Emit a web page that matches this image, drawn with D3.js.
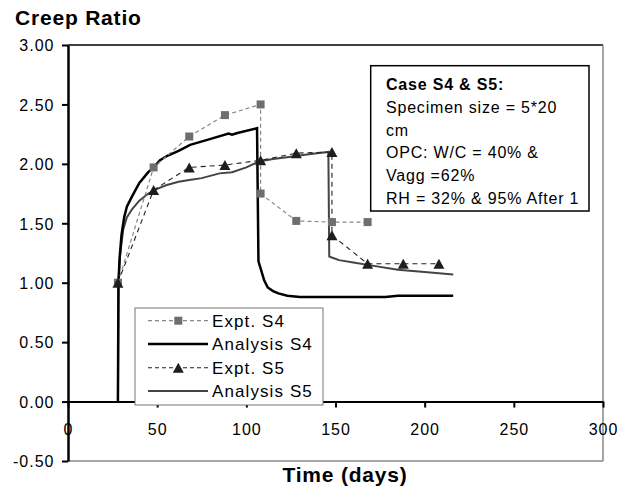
<!DOCTYPE html>
<html>
<head>
<meta charset="utf-8">
<script src="https://cdn.jsdelivr.net/npm/d3@7"></script>
<style>
  html, body { margin: 0; padding: 0; background: #fff; }
  svg { display: block; }
  text { font-family: "Liberation Sans", Arial, sans-serif; fill: #000; }
</style>
</head>
<body>
<svg id="chart" width="632" height="498"></svg>
<script>
// ---------- data ----------
const xTicks = [0, 50, 100, 150, 200, 250, 300];
const yTicks = [-0.5, 0, 0.5, 1.0, 1.5, 2.0, 2.5, 3.0];
const yTickLabels = ["-0.50", "0.00", "0.50", "1.00", "1.50", "2.00", "2.50", "3.00"];

const exptS4Days = [28, 48, 68, 88, 108, 108, 128, 148, 168];
const exptS4Vals = [1.00, 1.97, 2.23, 2.41, 2.50, 1.75, 1.52, 1.51, 1.51];

const exptS5Days = [28, 48, 68, 88, 108, 128, 148, 148, 168, 188, 208];
const exptS5Vals = [1.00, 1.78, 1.97, 1.99, 2.03, 2.09, 2.10, 1.40, 1.16, 1.16, 1.16];

const analS4Days = [28, 28.3, 29, 30, 31.5, 33, 35.7, 40, 45, 48, 51.6, 56, 62, 68.5, 80, 90, 92, 95, 106,
                    106.8, 108, 110, 112, 115, 118, 123, 130, 178, 185, 216];
const analS4Vals = [0.00, 1.00, 1.22, 1.40, 1.55, 1.64, 1.72, 1.84, 1.93, 1.97, 2.03, 2.07, 2.11, 2.16, 2.21, 2.255, 2.245, 2.26, 2.30,
                    1.18, 1.12, 1.02, 0.96, 0.93, 0.91, 0.89, 0.88, 0.88, 0.89, 0.89];

const analS5Days = [28, 28.3, 29, 30, 31, 33, 36, 40, 45, 50, 55, 62, 68, 75, 85, 92, 100, 107, 115, 125, 135, 146,
                    146.5, 148.3, 152, 160, 168, 185, 200, 216];
const analS5Vals = [0.00, 1.00, 1.20, 1.33, 1.45, 1.55, 1.62, 1.69, 1.75, 1.79, 1.82, 1.85, 1.865, 1.88, 1.92, 1.93, 1.97, 2.02, 2.04, 2.06, 2.08, 2.10,
                    1.22, 1.21, 1.19, 1.17, 1.15, 1.11, 1.09, 1.07];

const legendLabels = ["Expt. S4", "Analysis S4", "Expt. S5", "Analysis S5"];
const noteTitle = "Case S4 & S5:";
const noteLines = ["Specimen size = 5*20", "cm", "OPC: W/C = 40% &", "Vagg =62%", "RH = 32% & 95% After 1"];

// ---------- layout ----------
const svg = d3.select("#chart");
const x = d3.scaleLinear().domain([0, 300]).range([68, 603]);
const y = d3.scaleLinear().domain([-0.5, 3]).range([461, 45]);

const zip = (a, b) => a.map((d, i) => [d, b[i]]);
const line = d3.line().x(d => x(d[0])).y(d => y(d[1]));

// plot frame (top black, right/bottom gray)
svg.append("line").attr("x1", x(0)).attr("x2", x(300)).attr("y1", y(3)).attr("y2", y(3))
  .attr("stroke", "#000").attr("stroke-width", 1.5);
svg.append("line").attr("x1", x(300)).attr("x2", x(300)).attr("y1", y(3)).attr("y2", y(-0.5))
  .attr("stroke", "#888").attr("stroke-width", 1.5);
svg.append("line").attr("x1", x(0)).attr("x2", x(300)).attr("y1", y(-0.5)).attr("y2", y(-0.5))
  .attr("stroke", "#888").attr("stroke-width", 1.5);

// x axis at y = 0
const xAxis = svg.append("g").attr("transform", `translate(0,${y(0)})`)
  .call(d3.axisBottom(x).tickValues(xTicks).tickSize(6).tickSizeOuter(0).tickPadding(16).tickFormat(d3.format("d")));
xAxis.select(".domain").attr("stroke", "#000").attr("stroke-width", 2);
xAxis.selectAll(".tick line").attr("stroke", "#000").attr("stroke-width", 2);
xAxis.selectAll(".tick text").attr("font-size", 16).attr("letter-spacing", 1)
  .style("font-family", '"Liberation Sans", Arial, sans-serif').attr("fill", "#000");

// y axis
const yAxis = svg.append("g").attr("transform", `translate(${x(0)},0)`)
  .call(d3.axisLeft(y).tickValues(yTicks).tickSize(6).tickSizeOuter(0).tickPadding(7.5)
    .tickFormat((d, i) => yTickLabels[i]));
yAxis.select(".domain").attr("stroke", "#000").attr("stroke-width", 2.5);
yAxis.selectAll(".tick line").attr("stroke", "#000").attr("stroke-width", 2);
yAxis.selectAll(".tick text").attr("font-size", 16).attr("letter-spacing", 1).attr("dy", "0.36em")
  .style("font-family", '"Liberation Sans", Arial, sans-serif').attr("fill", "#000");

// series lines
svg.append("path").datum(zip(analS5Days, analS5Vals)).attr("d", line)
  .attr("fill", "none").attr("stroke", "#444").attr("stroke-width", 2);
svg.append("path").datum(zip(analS4Days, analS4Vals)).attr("d", line)
  .attr("fill", "none").attr("stroke", "#000").attr("stroke-width", 2.5);
svg.append("path").datum(zip(exptS4Days, exptS4Vals)).attr("d", line)
  .attr("fill", "none").attr("stroke", "#888").attr("stroke-width", 1.2).attr("stroke-dasharray", "4,3");
svg.append("path").datum(zip(exptS5Days, exptS5Vals)).attr("d", line)
  .attr("fill", "none").attr("stroke", "#222").attr("stroke-width", 1.1).attr("stroke-dasharray", "5,4");

// markers
const sq = 8, tw = 11, th = 10;
const triPath = `M0,${-th / 2}L${tw / 2},${th / 2}L${-tw / 2},${th / 2}Z`;
svg.append("g").selectAll("rect").data(zip(exptS4Days, exptS4Vals)).join("rect")
  .attr("x", d => x(d[0]) - sq / 2).attr("y", d => y(d[1]) - sq / 2)
  .attr("width", sq).attr("height", sq).attr("fill", "#6e6e6e");
svg.append("g").selectAll("path").data(zip(exptS5Days, exptS5Vals)).join("path")
  .attr("transform", d => `translate(${x(d[0])},${y(d[1])})`).attr("d", triPath).attr("fill", "#1e1e1e");

// legend
const lg = svg.append("g");
lg.append("rect").attr("x", 135).attr("y", 308).attr("width", 188).attr("height", 97)
  .attr("fill", "#fff").attr("stroke", "#777").attr("stroke-width", 1);
const rowY = [320.7, 344, 367.7, 391];
const styles = [
  { stroke: "#888", w: 1.2, dash: "4,3", marker: "sq" },
  { stroke: "#000", w: 2.5, dash: null, marker: null },
  { stroke: "#222", w: 1.1, dash: "4,3", marker: "tri" },
  { stroke: "#444", w: 2, dash: null, marker: null }
];
legendLabels.forEach((lab, i) => {
  const s = styles[i];
  const ln = lg.append("line").attr("x1", 148).attr("x2", 208).attr("y1", rowY[i]).attr("y2", rowY[i])
    .attr("stroke", s.stroke).attr("stroke-width", s.w);
  if (s.dash) ln.attr("stroke-dasharray", s.dash);
  if (s.marker === "sq") lg.append("rect").attr("x", 178.3 - sq / 2).attr("y", rowY[i] - sq / 2)
    .attr("width", sq).attr("height", sq).attr("fill", "#6e6e6e");
  if (s.marker === "tri") lg.append("path").attr("transform", `translate(178.3,${rowY[i]})`)
    .attr("d", triPath).attr("fill", "#1e1e1e");
  lg.append("text").attr("x", 212).attr("y", rowY[i] + 6).attr("font-size", 17)
    .attr("letter-spacing", 1.1).text(lab);
});

// annotation box
const nb = svg.append("g");
nb.append("rect").attr("x", 370.7).attr("y", 65.7).attr("width", 218.3).attr("height", 145.3)
  .attr("fill", "#fff").attr("stroke", "#000").attr("stroke-width", 1.5);
nb.append("text").attr("x", 386).attr("y", 90).attr("font-size", 16).attr("font-weight", "bold")
  .attr("letter-spacing", 0.8).text(noteTitle);
noteLines.forEach((t, i) => {
  nb.append("text").attr("x", 386).attr("y", 112.8 + i * 22.8).attr("font-size", 16)
    .attr("letter-spacing", 0.8).text(t);
});

// titles
svg.append("text").attr("x", 15).attr("y", 25).attr("font-size", 21).attr("font-weight", "bold")
  .attr("letter-spacing", 0.8).text("Creep Ratio");
svg.append("text").attr("x", 345).attr("y", 482).attr("font-size", 21).attr("font-weight", "bold")
  .attr("letter-spacing", 0.8).attr("text-anchor", "middle").text("Time (days)");
</script>
</body>
</html>
